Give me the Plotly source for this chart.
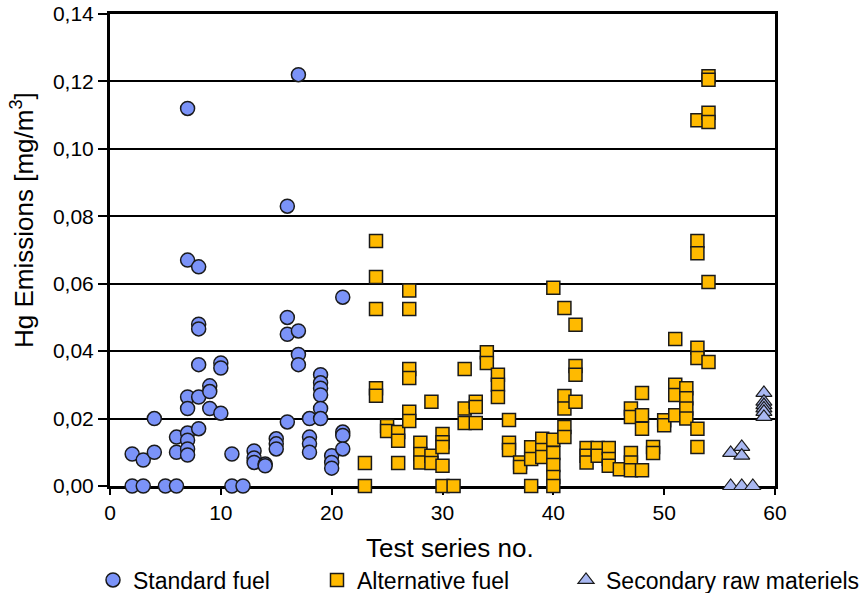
import plotly.graph_objects as go

# ---- data ----
std_x = [2, 2, 3, 3, 4, 4, 5, 6, 6, 6,
         7, 7, 7, 7, 7, 7, 7, 7,
         8, 8, 8, 8, 8, 8,
         9, 9, 9, 10, 10, 10, 11, 11, 12,
         13, 13, 13, 14, 14, 15, 15, 15,
         16, 16, 16, 16, 17, 17, 17, 17,
         18, 18, 18, 18, 19, 19, 19, 19, 19, 19,
         20, 20, 20, 21, 21, 21, 21]
std_y = [0.0095, 0.0, 0.0077, 0.0, 0.020, 0.010, 0.0, 0.0145, 0.010, 0.0,
         0.112, 0.067, 0.0264, 0.023, 0.0157, 0.0136, 0.011, 0.0092,
         0.065, 0.048, 0.0466, 0.036, 0.0264, 0.017,
         0.0297, 0.028, 0.023, 0.0365, 0.035, 0.0216, 0.0095, 0.0, 0.0,
         0.0104, 0.0083, 0.007, 0.0065, 0.006, 0.014, 0.0125, 0.011,
         0.083, 0.050, 0.045, 0.019, 0.122, 0.046, 0.039, 0.036,
         0.020, 0.0145, 0.0125, 0.010, 0.033, 0.0306, 0.029, 0.027, 0.023, 0.020,
         0.009, 0.007, 0.0053, 0.056, 0.016, 0.015, 0.011]

alt_x = [23, 23, 24, 24, 24, 24, 24, 25, 25, 26, 26, 26,
         27, 27, 27, 27, 27, 27, 28, 28, 28, 29, 29, 29,
         30, 30, 30, 30, 30, 31, 32, 32, 32, 33, 33, 33, 34, 34,
         35, 35, 35, 36, 36, 36, 37, 37, 38, 38, 38, 39, 39, 39,
         40, 40, 40, 40, 40, 40, 41, 41, 41, 41, 41, 42, 42, 42, 42,
         43, 43, 43, 44, 44, 45, 45, 45, 46,
         47, 47, 47, 47, 47, 48, 48, 48, 48, 49, 49, 50, 50,
         51, 51, 51, 51, 52, 52, 52, 52,
         53, 53, 53, 53, 53, 53, 53, 54, 54, 54, 54, 54, 54]
alt_y = [0.0068, 0.0, 0.0727, 0.062, 0.0525, 0.029, 0.0268, 0.0178, 0.0163, 0.016, 0.0134, 0.0068,
         0.058, 0.0525, 0.0347, 0.032, 0.022, 0.0193, 0.0128, 0.0095, 0.007, 0.025, 0.009, 0.0068,
         0.0154, 0.013, 0.0116, 0.006, 0.0, 0.0, 0.0347, 0.023, 0.0187, 0.025, 0.0234, 0.0187, 0.0397, 0.0365,
         0.033, 0.030, 0.0264, 0.0196, 0.0128, 0.0107, 0.007, 0.0056, 0.0115, 0.008, 0.0, 0.014, 0.0107, 0.0086,
         0.0588, 0.0137, 0.0098, 0.0062, 0.0027, 0.0, 0.0528, 0.0267, 0.023, 0.0175, 0.0145, 0.0478, 0.0356, 0.033, 0.025,
         0.0113, 0.009, 0.007, 0.0113, 0.009, 0.0113, 0.008, 0.006, 0.005,
         0.023, 0.0205, 0.0098, 0.007, 0.0047, 0.0276, 0.021, 0.017, 0.0047, 0.0116, 0.0098, 0.0195, 0.018,
         0.0436, 0.030, 0.027, 0.021, 0.029, 0.026, 0.023, 0.020,
         0.1085, 0.0727, 0.069, 0.041, 0.038, 0.017, 0.0116, 0.1215, 0.1205, 0.1107, 0.108, 0.0605, 0.0368]

sec_x = [56, 56, 57, 57, 57, 58, 59, 59, 59, 59, 59, 59]
sec_y = [0.0098, 0.0, 0.0116, 0.009, 0.0, 0.0, 0.0276, 0.025, 0.024, 0.023, 0.022, 0.0205]

x_ticks = [0, 10, 20, 30, 40, 50, 60]
y_ticks = [0.00, 0.02, 0.04, 0.06, 0.08, 0.10, 0.12, 0.14]

FONT = "Liberation Sans, Arial, sans-serif"
OUT = "#1a1a1a"

fig = go.Figure()
fig.add_trace(go.Scatter(
    x=std_x, y=std_y, mode="markers", name="Standard fuel", legend="legend",
    marker=dict(symbol="circle", size=14, color="#7b93f8", line=dict(color=OUT, width=1.5)),
    cliponaxis=False))
fig.add_trace(go.Scatter(
    x=alt_x, y=alt_y, mode="markers", name="Alternative fuel", legend="legend2",
    marker=dict(symbol="square", size=13, color="#ffba00", line=dict(color=OUT, width=1.5)),
    cliponaxis=False))
fig.add_trace(go.Scatter(
    x=sec_x, y=sec_y, mode="markers", name="Secondary raw materiels", legend="legend3",
    marker=dict(symbol="triangle-up", size=14, color="#a9b8f2", line=dict(color=OUT, width=1.2)),
    cliponaxis=False))

L, R, T, B = 110, 89, 14, 107
W, H = 864, 593
pw = W - L - R
ph = H - T - B

def px2x(p):
    return (p - L) / pw

def py2y(p):
    return (H - B - p) / ph

leg_common = dict(orientation="h", font=dict(family=FONT, size=23, color="black"),
                  bgcolor="rgba(0,0,0,0)", yanchor="middle", xanchor="left",
                  itemwidth=30)
ly = py2y(580)
fig.update_layout(
    width=W, height=H,
    margin=dict(l=L, r=R, t=T, b=B, autoexpand=False),
    paper_bgcolor="white", plot_bgcolor="white",
    separators=", ",
    showlegend=True,
    legend=dict(x=px2x(93), y=ly, **leg_common),
    legend2=dict(x=px2x(317), y=ly, **leg_common),
    legend3=dict(x=px2x(566), y=ly, **leg_common),
    font=dict(family=FONT, color="black"),
    xaxis=dict(range=[0, 60], tickvals=x_ticks, ticks="outside", ticklen=6, tickwidth=2,
               tickcolor="black", showgrid=False, zeroline=False, automargin=False,
               showline=True, linecolor="black", linewidth=3, mirror=True,
               tickfont=dict(family=FONT, size=21, color="black"), layer="below traces"),
    yaxis=dict(range=[0, 0.14], tickvals=y_ticks, tickformat=".2f", ticks="outside",
               ticklen=9, tickwidth=2, tickcolor="black", automargin=False,
               showgrid=True, gridcolor="black", gridwidth=2, zeroline=False,
               showline=True, linecolor="black", linewidth=3, mirror=True,
               tickfont=dict(family=FONT, size=21, color="black"), layer="below traces"),
    annotations=[
        dict(text="Test series no.", xref="paper", yref="paper",
             x=px2x(450), y=py2y(548), showarrow=False, xanchor="center", yanchor="middle",
             font=dict(family=FONT, size=26, color="black")),
        dict(text="Hg Emissions [mg/m<sup>3</sup>]", xref="paper", yref="paper",
             x=px2x(23), y=py2y(220), showarrow=False, xanchor="center", yanchor="middle",
             textangle=-90, font=dict(family=FONT, size=26, color="black")),
    ],
)

fig.write_html("out.html", config={"displayModeBar": False},
               post_script="document.body.style.margin='0px';")
